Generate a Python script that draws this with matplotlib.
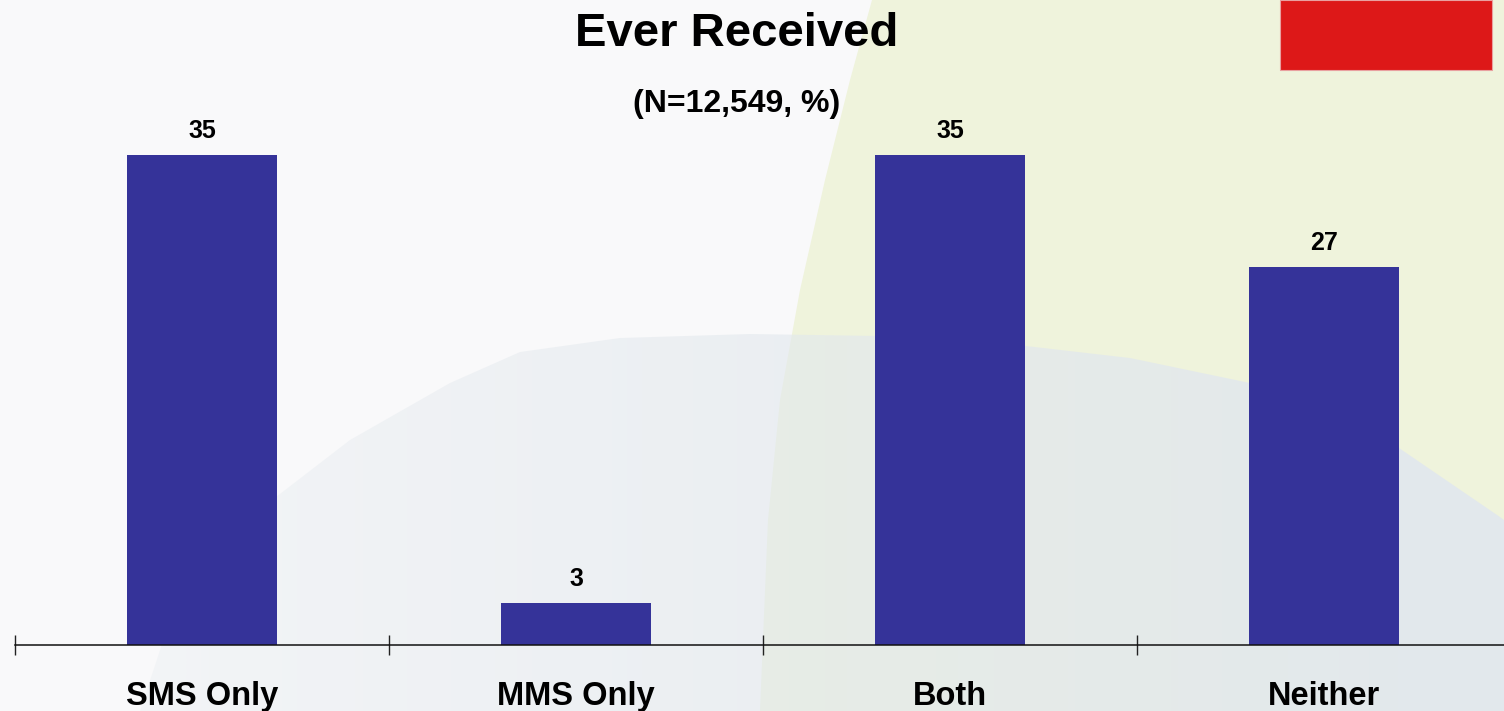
import numpy as np
import matplotlib.pyplot as plt
from matplotlib.patches import Polygon, Rectangle

plt.rcParams['font.family'] = ['Liberation Sans', 'DejaVu Sans']

categories = ['SMS Only', 'MMS Only', 'Both', 'Neither']
values = [35, 3, 35, 27]
title = 'Ever Received'
subtitle = '(N=12,549, %)'

W, H = 1504, 711
fig = plt.figure(figsize=(W / 100, H / 100), dpi=100)
fig.patch.set_facecolor('#f9f9fa')

# background decoration (pixel coords, y down)
bg = fig.add_axes([0, 0, 1, 1], zorder=0)
bg.set_xlim(0, W)
bg.set_ylim(H, 0)
bg.axis('off')
green_pts = [(872, 0), (850, 80), (825, 180), (800, 290), (780, 400),
             (768, 520), (760, 711), (W, 711), (W, 0)]
bg.add_patch(Polygon(green_pts, closed=True, facecolor='#eff3dc', edgecolor='none'))

blue_pts = [(140, 711), (183, 580), (250, 517), (350, 440), (450, 383),
            (520, 352), (620, 338), (750, 334), (880, 336), (1000, 343),
            (1130, 358), (1250, 383), (1380, 435), (1500, 517), (W, 520), (W, 711)]
clip = Polygon(blue_pts, closed=True, facecolor='none', edgecolor='none')
bg.add_patch(clip)
grad = np.zeros((2, 256, 4))
grad[..., 0] = 0.89
grad[..., 1] = 0.91
grad[..., 2] = 0.93
grad[..., 3] = np.linspace(0.2, 1.0, 256)
img = bg.imshow(grad, extent=(0, W, H, 330), aspect='auto', interpolation='bilinear', zorder=1)
img.set_clip_path(clip)
bg.set_xlim(0, W)
bg.set_ylim(H, 0)
bg.add_patch(Rectangle((1280, 0), 212, 70, facecolor='#dd1818', edgecolor='#e9a0a0', lw=0.8, zorder=2))

# chart
ax = fig.add_axes([15 / W, (H - 645) / H, 1496 / W, 560 / H], zorder=1)
ax.patch.set_visible(False)
x = [i + 0.5 for i in range(len(categories))]
ax.bar(x, values, width=0.4, color='#353399', zorder=2)
for xi, v in zip(x, values):
    ax.annotate(str(v), (xi, v), xytext=(0, 9), textcoords='offset points',
                ha='center', va='bottom', fontsize=18, fontweight='bold')

ax.set_xlim(0, 4)
ax.set_ylim(0, 40)
ax.set_yticks([])
for s in ['top', 'right', 'left']:
    ax.spines[s].set_visible(False)
ax.spines['bottom'].set_linewidth(1.1)
ax.spines['bottom'].set_color('#111111')

ax.set_xticks(range(len(categories) + 1))
ax.set_xticklabels([])
ax.tick_params(axis='x', which='major', direction='inout', length=14, width=1, color='#222222')
ax.set_xticks(x, minor=True)
ax.set_xticklabels(categories, minor=True, fontsize=23.5, fontweight='bold')
ax.tick_params(axis='x', which='minor', length=0, pad=26)

fig.text(737 / W, 1 - 34 / H, title, ha='center', va='center', fontsize=34, fontweight='bold')
fig.text(737 / W, 1 - 104 / H, subtitle, ha='center', va='center', fontsize=23, fontweight='bold')

fig.savefig('out.png', dpi=100, facecolor=fig.get_facecolor())
